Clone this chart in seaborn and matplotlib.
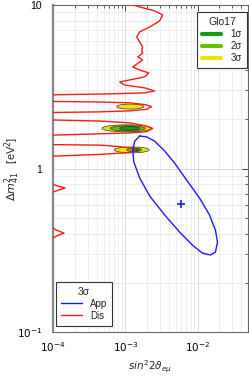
import numpy as np
import matplotlib
matplotlib.use("Agg")
import matplotlib.pyplot as plt
import seaborn as sns
from matplotlib.lines import Line2D
from matplotlib.ticker import LogLocator, FixedLocator, FixedFormatter, NullFormatter

# ---------------- data ----------------
# Disappearance 3 sigma boundary (red)
dis_x = [1.016e-3, 1.58e-3, 2.55e-3, 3.29e-3, 2.99e-3, 2.18e-3, 1.58e-3, 1.44e-3, 1.58e-3, 1.74e-3,
         1.69e-3, 1.74e-3, 1.49e-3, 1.74e-3, 1.27e-3, 1.58e-3, 2.11e-3, 1.86e-3, 1.15e-3, 8.4e-4,
         9.84e-4, 1.86e-3, 2.55e-3, 1.86e-3, 6.1e-4, 2.35e-4, 1.0e-4, 5e-5,
         5e-5, 1.0e-4, 4.45e-4, 1.15e-3, 1.86e-3, 2.32e-3, 1.98e-3, 1.15e-3, 4.45e-4, 1.0e-4, 5e-5,
         5e-5, 1.0e-4, 4.45e-4, 1.15e-3, 1.86e-3, 2.39e-3, 1.98e-3, 1.15e-3, 4.45e-4, 1.0e-4, 5e-5,
         5e-5, 1.0e-4, 4.45e-4, 8.4e-4, 1.08e-3, 1.31e-3, 1.35e-3, 1.15e-3, 7.9e-4, 4.45e-4, 1.0e-4, 5e-5,
         5e-5, 1.0e-4, 1.10e-4, 1.47e-4, 1.14e-4, 1.0e-4, 5e-5,
         5e-5, 1.0e-4, 1.10e-4, 1.42e-4, 1.10e-4, 1.0e-4, 5e-5]
dis_y = [10.3, 9.72, 9.19, 8.69, 7.98, 7.33, 6.84, 6.37, 5.94, 5.54,
         5.31, 5.09, 4.81, 4.61, 4.18, 4.00, 3.84, 3.63, 3.48, 3.38,
         3.24, 3.11, 2.98, 2.90, 2.86, 2.84, 2.82, 2.82,
         2.57, 2.57, 2.55, 2.52, 2.46, 2.39, 2.30, 2.25, 2.22, 2.20, 2.20,
         1.98, 1.98, 1.95, 1.90, 1.83, 1.76, 1.68, 1.65, 1.63, 1.60, 1.60,
         1.40, 1.40, 1.39, 1.36, 1.34, 1.32, 1.28, 1.25, 1.24, 1.22, 1.19, 1.19,
         0.804, 0.804, 0.787, 0.760, 0.733, 0.718, 0.718,
         0.433, 0.433, 0.421, 0.403, 0.386, 0.376, 0.376]

# Appearance 3 sigma boundary (blue)
app_x = [1.585e-3, 1.98e-3, 2.55e-3, 3.51e-3, 4.82e-3, 7.05e-3, 1.067e-2, 1.466e-2, 1.77e-2, 1.89e-2,
         1.77e-2, 1.51e-2, 1.17e-2, 8.53e-3, 5.65e-3, 3.51e-3, 2.18e-3, 1.585e-3, 1.31e-3, 1.27e-3,
         1.35e-3, 1.585e-3]
app_y = [1.58, 1.56, 1.47, 1.28, 1.08, 0.851, 0.66, 0.52, 0.42, 0.355,
         0.308, 0.296, 0.304, 0.34, 0.409, 0.52, 0.679, 0.875, 1.10, 1.30,
         1.47, 1.58]
app_best_x = [5.84e-3]
app_best_y = [0.607]

# Global-fit (Glo17) islands: centre and half-widths (in decades) per confidence level
sig3_cx = [1.17e-3, 1.05e-3, 1.23e-3]
sig3_cy = [2.39, 1.76, 1.30]
sig3_dx = [0.186, 0.345, 0.241]
sig3_dy = [0.0153, 0.0214, 0.018]
sig2_cx = [1.08e-3, 1.33e-3]
sig2_cy = [1.76, 1.30]
sig2_dx = [0.241, 0.10]
sig2_dy = [0.016, 0.011]
sig1_cx = [1.15e-3, 1.38e-3]
sig1_cy = [1.76, 1.30]
sig1_dx = [0.138, 0.045]
sig1_dy = [0.011, 0.007]

x_ticks = [1e-4, 1e-3, 1e-2]
x_ticklabels = [r'$10^{-4}$', r'$10^{-3}$', r'$10^{-2}$']
y_ticks = [0.1, 1, 10]
y_ticklabels = [r'$10^{-1}$', '1', '10']

# ---------------- style ----------------
sns.set_theme(style="white")
plt.rcParams['font.family'] = ['Liberation Sans', 'DejaVu Sans']
plt.rcParams['mathtext.fontset'] = 'dejavusans'

c1, c2, c3 = '#149a14', '#66c000', '#e6e600'
blue, red = '#1a1aff', '#ff1a1a'

fig = plt.figure(figsize=(2.49, 3.77), dpi=100)
ax = fig.add_axes([0.213, 0.119, 0.783, 0.868])
ax.set_xscale('log')
ax.set_yscale('log')
ax.set_xlim(1e-4, 0.05)
ax.set_ylim(0.1, 10)

# grid
ax.xaxis.set_minor_locator(LogLocator(base=10, subs=np.arange(2, 10)))
ax.yaxis.set_minor_locator(LogLocator(base=10, subs=np.arange(2, 10)))
ax.grid(True, which='major', color='#d4d4d4', lw=0.6)
ax.grid(True, which='minor', color='#e8e8e8', lw=0.5)
ax.set_axisbelow(True)

t = np.linspace(0, 2 * np.pi, 120)
def island(cx, cy, dx, dy, col):
    for a, b, w, h in zip(cx, cy, dx, dy):
        xs = 10 ** (np.log10(a) + w * np.cos(t))
        ys = 10 ** (np.log10(b) + h * np.sin(t))
        ax.fill(xs, ys, facecolor=col, edgecolor='#333333', lw=0.5, zorder=3)

island(sig3_cx, sig3_cy, sig3_dx, sig3_dy, c3)
island(sig2_cx, sig2_cy, sig2_dx, sig2_dy, c2)
island(sig1_cx, sig1_cy, sig1_dx, sig1_dy, c1)

sns.lineplot(x=dis_x, y=dis_y, sort=False, estimator=None, color=red, lw=1.0, ax=ax, zorder=4)
sns.lineplot(x=app_x, y=app_y, sort=False, estimator=None, color=blue, lw=1.0, ax=ax, zorder=4)
ax.plot(app_best_x, app_best_y, marker='+', ms=6, mew=1.2, color=blue, ls='none', zorder=5)

# ticks
ax.xaxis.set_major_locator(FixedLocator(x_ticks))
ax.xaxis.set_major_formatter(FixedFormatter(x_ticklabels))
ax.yaxis.set_major_locator(FixedLocator(y_ticks))
ax.yaxis.set_major_formatter(FixedFormatter(y_ticklabels))
ax.xaxis.set_minor_formatter(NullFormatter())
ax.yaxis.set_minor_formatter(NullFormatter())
ax.tick_params(which='both', direction='in', top=True, right=True, color='#444444')
ax.tick_params(which='major', length=4, width=0.7, labelsize=7.5, labelcolor='black')
ax.tick_params(axis='x', which='major', pad=6)
ax.tick_params(axis='y', which='major', pad=8)
ax.tick_params(which='minor', length=2, width=0.6)
for s in ax.spines.values():
    s.set_color('#666666')
    s.set_linewidth(0.8)
ax.spines['left'].set_linewidth(1.6)
ax.spines['left'].set_color('#888888')

ax.set_xlabel(r'$sin^2 2\vartheta_{e\mu}$', fontsize=7.5)
ax.xaxis.set_label_coords(0.5, -0.082)
ax.set_ylabel(r'$\Delta m^2_{41}$   [eV$^2$]', fontsize=8)
ax.yaxis.set_label_coords(-0.16, 0.5)

# legends
h_glo = [Line2D([], [], color=c1, lw=3), Line2D([], [], color=c2, lw=3), Line2D([], [], color=c3, lw=3)]
leg1 = ax.legend(h_glo, ['1σ', '2σ', '3σ'], title='Glo17', loc='upper right',
                 bbox_to_anchor=(1.02, 0.992), fontsize=7, title_fontsize=7.5,
                 handlelength=2.0, handletextpad=1.0, labelspacing=0.2, borderpad=0.5,
                 fancybox=False, framealpha=1, edgecolor='#333333')
leg1.get_frame().set_linewidth(0.8)
ax.add_artist(leg1)
h_3s = [Line2D([], [], color=blue, lw=1), Line2D([], [], color=red, lw=1)]
leg2 = ax.legend(h_3s, ['App', 'Dis'], title='3σ', loc='lower left',
                 bbox_to_anchor=(-0.01, 0.005), fontsize=7, title_fontsize=7.5,
                 handlelength=2.2, handletextpad=0.8, labelspacing=0.2, borderpad=0.5,
                 fancybox=False, framealpha=1, edgecolor='#333333')
leg2.get_frame().set_linewidth(0.8)

fig.savefig('out.png', dpi=100)
